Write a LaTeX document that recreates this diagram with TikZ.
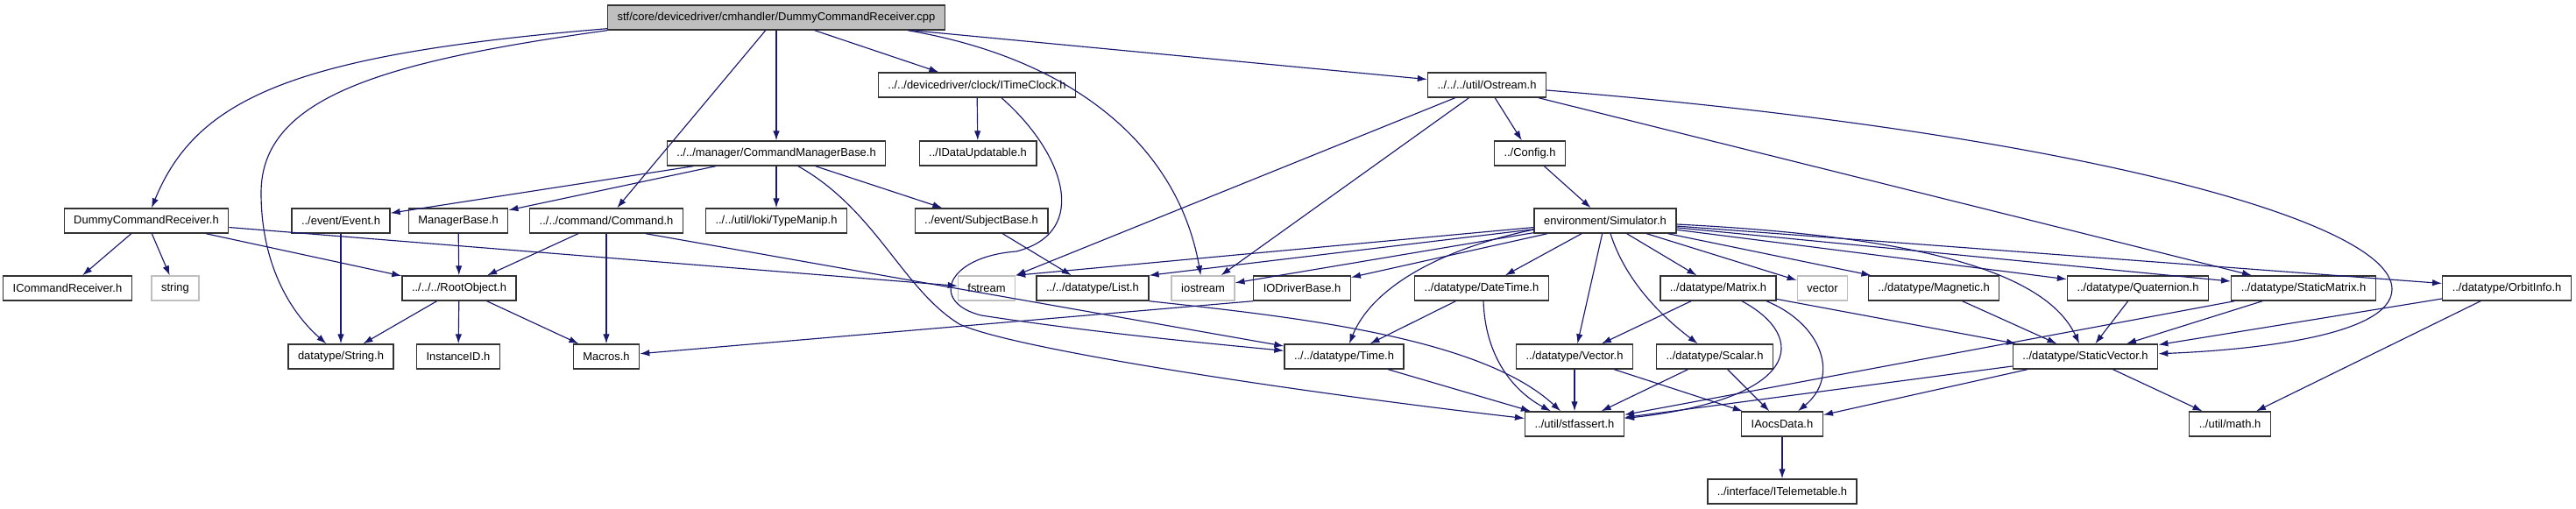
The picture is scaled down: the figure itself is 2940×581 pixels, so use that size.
\documentclass[tikz,border=0pt]{standalone}
\usepackage{fontspec}
\setmainfont{Liberation Sans}
\usetikzlibrary{arrows.meta}
\definecolor{depblue}{RGB}{25,25,112}
\definecolor{rootgray}{RGB}{191,191,191}
\definecolor{sysline}{RGB}{191,191,191}
\definecolor{boxline}{RGB}{50,50,50}

\begin{document}
\begin{tikzpicture}[x=1bp,y=-1bp,
  hdr/.style={rectangle,draw=boxline,line width=1.4bp,fill=white,
    minimum height=28bp,inner xsep=11bp,inner ysep=2bp,font=\fontsize{13}{15}\selectfont},
  syshdr/.style={hdr,draw=sysline},
  srcfile/.style={hdr,fill=rootgray},
  dep/.style={-{Latex[length=11bp,width=7.5bp]},draw=depblue,line width=1.15bp}
]
\useasboundingbox (0,0) rectangle (2940,581);
\node[srcfile] (root) at (886,20) {stf/core/devicedriver/cmhandler/DummyCommandReceiver.cpp};
\node[hdr] (itime) at (1115,97) {../../devicedriver/clock/ITimeClock.h};
\node[hdr] (ostream) at (1697,97) {../../../util/Ostream.h};
\node[hdr] (cmb) at (886,175) {../../manager/CommandManagerBase.h};
\node[hdr] (idata) at (1116,175) {../IDataUpdatable.h};
\node[hdr] (config) at (1746,175) {../Config.h};
\node[hdr] (dcr) at (167,252) {DummyCommandReceiver.h};
\node[hdr] (event) at (389,252) {../event/Event.h};
\node[hdr] (mgrbase) at (523,252) {ManagerBase.h};
\node[hdr] (command) at (692,252) {../../command/Command.h};
\node[hdr] (typemanip) at (886,252) {../../util/loki/TypeManip.h};
\node[hdr] (subject) at (1120,252) {../event/SubjectBase.h};
\node[hdr] (simulator) at (1832,252) {environment/Simulator.h};
\node[hdr] (icmdrecv) at (77,329) {ICommandReceiver.h};
\node[syshdr] (string) at (200,329) {string};
\node[hdr] (rootobj) at (524,329) {../../../RootObject.h};
\node[syshdr] (fstream) at (1126,329) {fstream};
\node[hdr] (list) at (1247,329) {../../datatype/List.h};
\node[syshdr] (iostream) at (1373,329) {iostream};
\node[hdr] (iodriver) at (1486,329) {IODriverBase.h};
\node[hdr] (datetime) at (1691,329) {../datatype/DateTime.h};
\node[hdr] (matrix) at (1961,329) {../datatype/Matrix.h};
\node[syshdr] (vector) at (2080,329) {vector};
\node[hdr] (magnetic) at (2207,329) {../datatype/Magnetic.h};
\node[hdr] (quaternion) at (2440,329) {../datatype/Quaternion.h};
\node[hdr] (staticmatrix) at (2629,329) {../datatype/StaticMatrix.h};
\node[hdr] (orbitinfo) at (2861,329) {../datatype/OrbitInfo.h};
\node[hdr] (strh) at (389,407) {datatype/String.h};
\node[hdr] (instanceid) at (523,407) {InstanceID.h};
\node[hdr] (macros) at (692,407) {Macros.h};
\node[hdr] (time) at (1534,407) {../../datatype/Time.h};
\node[hdr] (vectorh) at (1797,407) {../datatype/Vector.h};
\node[hdr] (scalar) at (1957,407) {../datatype/Scalar.h};
\node[hdr] (staticvector) at (2380,407) {../datatype/StaticVector.h};
\node[hdr] (stfassert) at (1797,484) {../util/stfassert.h};
\node[hdr] (iaocs) at (2034,484) {IAocsData.h};
\node[hdr] (math) at (2545,484) {../util/math.h};
\node[hdr] (itelem) at (2034,561) {../interface/ITelemetable.h};
% root file
\draw[dep] ([yshift=2bp]root.south west) .. controls (340,62) and (225,110) .. (dcr);
\draw[dep] (root.south west) .. controls (440,70) and (298,110) .. (298,220) .. controls (298,300) and (330,355) .. (strh);
\draw[dep] (root) -- (command);
\draw[dep] (root) -- (cmb);
\draw[dep] (root) -- (itime);
\draw[dep] ([xshift=150bp]root.south) .. controls (1230,68) and (1345,170) .. (iostream);
\draw[dep] (root) -- (ostream);
% manager and command side
\draw[dep] (itime) -- (idata);
\draw[dep] ([xshift=28bp]itime.south) .. controls (1215,175) and (1245,265) .. (1160,287) .. controls (1080,293) and (1060,345) .. (1120,360) .. controls (1250,380) and (1380,392) .. (time);
\draw[dep] (cmb) -- (event);
\draw[dep] (cmb) -- (mgrbase);
\draw[dep] (cmb) -- (typemanip);
\draw[dep] (cmb) -- (subject);
\draw[dep] ([xshift=25bp]cmb.south) .. controls (1000,240) and (1030,330) .. (1095,370) .. controls (1160,400) and (1500,450) .. (stfassert);
\draw[dep] (dcr) -- (icmdrecv);
\draw[dep] (dcr) -- (string);
\draw[dep] (dcr) -- (rootobj);
\draw[dep] (dcr) -- (fstream);
\draw[dep] (event) -- (strh);
\draw[dep] (mgrbase) -- (rootobj);
\draw[dep] (command) -- (rootobj);
\draw[dep] (command) -- (macros);
\draw[dep] ([xshift=45bp]command.south) -- (time);
\draw[dep] (rootobj) -- (strh);
\draw[dep] (rootobj) -- (instanceid);
\draw[dep] (rootobj) -- (macros);
\draw[dep] (subject) -- (list);
% ostream and simulator
\draw[dep] (ostream) -- (config);
\draw[dep] (ostream) -- (fstream.north east);
\draw[dep] (ostream) -- (iostream);
\draw[dep] (ostream) -- (staticmatrix);
\draw[dep] ([yshift=-6bp]ostream.east) .. controls (2350,150) and (2730,250) .. (2730,330) .. controls (2730,385) and (2560,400) .. (staticvector);
\draw[dep] (config) -- (simulator);
\draw[dep] (simulator) -- (fstream.north east);
\draw[dep] (simulator) -- (list.north east);
\draw[dep] (simulator) -- (iostream);
\draw[dep] (simulator) -- (iodriver);
\draw[dep] ([yshift=-10bp]simulator.west) .. controls (1640,285) and (1565,330) .. (time);
\draw[dep] (simulator) -- (datetime);
\draw[dep] (simulator) -- (vectorh);
\draw[dep] ([xshift=6bp]simulator.south) .. controls (1855,320) and (1895,360) .. (scalar);
\draw[dep] (simulator) -- (matrix);
\draw[dep] (simulator) -- (vector);
\draw[dep] (simulator) -- (magnetic);
\draw[dep] (simulator) -- (quaternion);
\draw[dep] (simulator) -- (staticmatrix);
\draw[dep] (simulator) -- (orbitinfo);
\draw[dep] ([yshift=-4bp]simulator.east) .. controls (2150,268) and (2330,300) .. (staticvector);
% datatypes
\draw[dep] (iodriver.south west) -- (macros);
\draw[dep] (datetime) -- (time);
\draw[dep] ([xshift=2bp]datetime.south) .. controls (1695,405) and (1725,445) .. (stfassert);
\draw[dep] (time) -- (stfassert);
\draw[dep] (list.south east) .. controls (1480,362) and (1690,385) .. (stfassert);
\draw[dep] (vectorh) -- (stfassert);
\draw[dep] (vectorh) -- (iaocs);
\draw[dep] (scalar) -- (stfassert);
\draw[dep] (scalar) -- (iaocs);
\draw[dep] (matrix) -- (vectorh);
\draw[dep] ([xshift=27bp]matrix.south) .. controls (2065,385) and (2055,455) .. (stfassert);
\draw[dep] ([xshift=55bp]matrix.south) .. controls (2080,370) and (2100,430) .. (iaocs);
\draw[dep] (matrix) -- (staticvector);
\draw[dep] (magnetic) -- (staticvector);
\draw[dep] (quaternion) -- (staticvector);
\draw[dep] (staticmatrix) -- (staticvector);
\draw[dep] (staticmatrix) -- (stfassert);
\draw[dep] (orbitinfo) -- (staticvector);
\draw[dep] (orbitinfo) -- (math);
\draw[dep] (staticvector) -- (math);
\draw[dep] (staticvector) -- (stfassert);
\draw[dep] (staticvector) -- (iaocs);
\draw[dep] (iaocs) -- (itelem);
\end{tikzpicture}
\end{document}
